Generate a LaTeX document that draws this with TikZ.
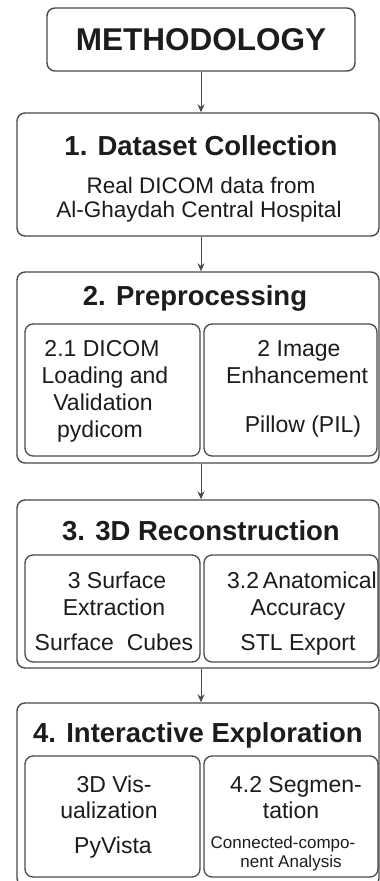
\documentclass[tikz,border=0pt]{standalone}
\usepackage{fontspec}
\setmainfont{Liberation Sans}
\usetikzlibrary{arrows.meta}
\definecolor{linegray}{HTML}{4A4A4A}
\definecolor{txt}{HTML}{1C1C1C}
\tikzset{
  outerbox/.style={draw=linegray, line width=1.4pt, rounded corners=8pt, inner sep=0pt},
  innerbox/.style={draw=linegray, line width=1.3pt, rounded corners=8pt, inner sep=0pt},
  headtxt/.style={anchor=base, inner sep=0pt, text=txt, font=\fontsize{31.5}{36}\selectfont\bfseries},
  titletxt/.style={anchor=base, inner sep=0pt, text=txt, font=\fontsize{27.5}{32}\selectfont\bfseries},
  bodytxt/.style={anchor=base, inner sep=0pt, text=txt, font=\fontsize{23}{27}\selectfont},
  smalltxt/.style={anchor=base, inner sep=0pt, text=txt, font=\fontsize{17}{20}\selectfont},
  flow/.style={draw=linegray, line width=1pt, -{Stealth[length=8pt,width=7pt]}},
}
\begin{document}
\begin{tikzpicture}[x=1pt,y=-1pt]
\useasboundingbox (0,0) rectangle (380,881);
\fill[white] (0,0) rectangle (380,881);
\clip (0,0) rectangle (380,881);
% boxes
\node[outerbox, minimum width=308pt, minimum height=63pt] (m) at (201,39.5) {};
\node[outerbox, minimum width=362pt, minimum height=123pt] (b1) at (198,174.5) {};
\node[outerbox, minimum width=362pt, minimum height=191pt] (b2) at (198,367.5) {};
\node[outerbox, minimum width=362pt, minimum height=168pt] (b3) at (198,584) {};
\node[outerbox, minimum width=362pt, minimum height=183pt] (b4) at (198,794.5) {};
% inner boxes
\node[innerbox, minimum width=175pt, minimum height=132pt] (b2l) at (112.5,390) {};
\node[innerbox, minimum width=173pt, minimum height=132pt] (b2r) at (290.5,390) {};
\node[innerbox, minimum width=175pt, minimum height=107pt] (b3l) at (112.5,608.5) {};
\node[innerbox, minimum width=174pt, minimum height=107pt] (b3r) at (291,608.5) {};
\node[innerbox, minimum width=175pt, minimum height=121pt] (b4l) at (112.5,816.5) {};
\node[innerbox, minimum width=174pt, minimum height=121pt] (b4r) at (291,816.5) {};
% texts
\node[headtxt] (tm) at (201,50) {METHODOLOGY};
\node[titletxt] (t1) at (201,155) {1. Dataset Collection};
\node[bodytxt, font=\fontsize{22.5}{26}\selectfont] (t1a) at (201,193) {Real DICOM data from};
\node[bodytxt, font=\fontsize{22.5}{26}\selectfont] (t1b) at (199,217) {Al-Ghaydah Central Hospital};
\node[titletxt] (t2) at (195,305) {2. Preprocessing};
\node[bodytxt] (t2la) at (102,356) {2.1 DICOM};
\node[bodytxt] (t2lb) at (105,383) {Loading and};
\node[bodytxt] (t2lc) at (103,410) {Validation};
\node[bodytxt] (t2ld) at (100,437) {pydicom};
\node[bodytxt] (t2ra) at (299,356) {2 Image};
\node[bodytxt] (t2rb) at (297,383) {Enhancement};
\node[bodytxt] (t2rc) at (303,432) {Pillow (PIL)};
\node[titletxt] (t3) at (201,540) {3. 3D Reconstruction};
\node[bodytxt] (t3la) at (117,588) {3 Surface};
\node[bodytxt] (t3lb) at (114,615) {Extraction};
\node[bodytxt] (t3lc) at (114,650) {Surface\ \ Cubes};
\node[bodytxt] (t3ra) at (302,588) {3.2\,Anatomical};
\node[bodytxt] (t3rb) at (298,615) {Accuracy};
\node[bodytxt] (t3rc) at (298,650) {STL Export};
\node[titletxt] (t4) at (198,742) {4. Interactive Exploration};
\node[bodytxt] (t4la) at (114,792) {3D Vis-};
\node[bodytxt] (t4lb) at (109,818) {ualization};
\node[bodytxt] (t4lc) at (113,853) {PyVista};
\node[bodytxt] (t4ra) at (296,792) {4.2 Segmen-};
\node[bodytxt] (t4rb) at (291,818) {tation};
\node[smalltxt] (t4rc) at (283,848) {Connected-compo-};
\node[smalltxt] (t4rd) at (291,867) {nent Analysis};
% connectors
\draw[flow] (m.south) -- (m.south |- b1.north);
\draw[flow] (m.south |- b1.south) -- (m.south |- b2.north);
\draw[flow] (m.south |- b2.south) -- (m.south |- b3.north);
\draw[flow] (m.south |- b3.south) -- (m.south |- b4.north);
\end{tikzpicture}
\end{document}
